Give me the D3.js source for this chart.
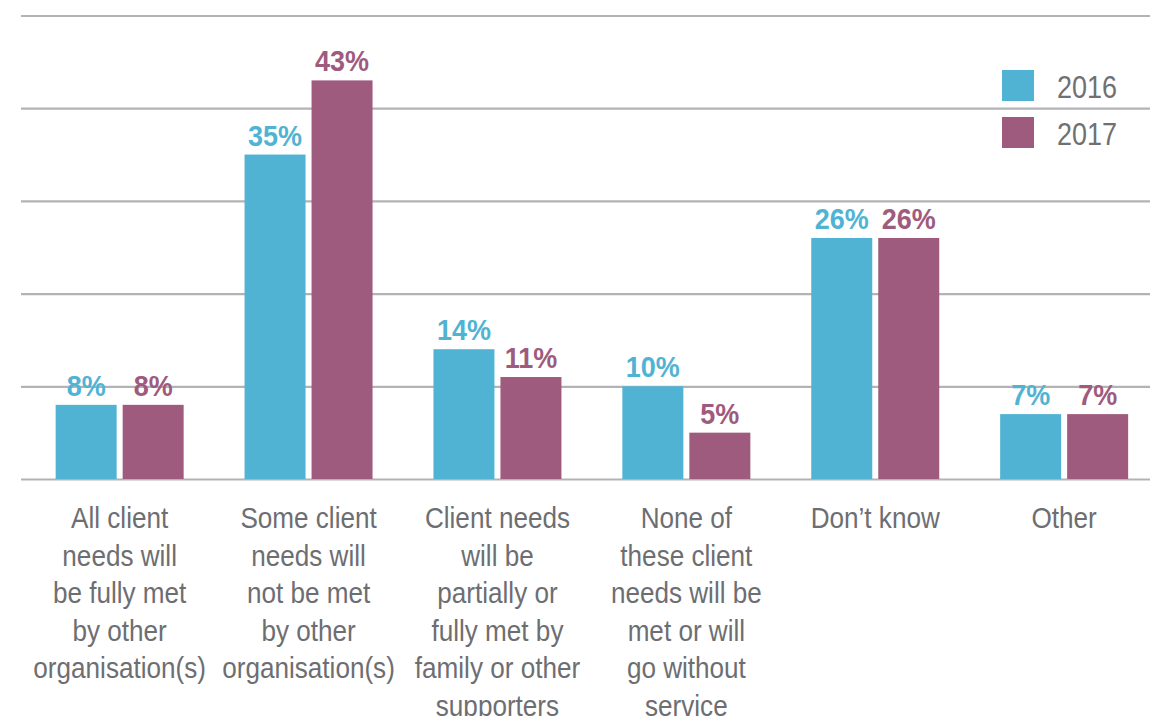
<!DOCTYPE html>
<html><head><meta charset="utf-8">
<script src="https://cdn.jsdelivr.net/npm/d3@7"></script>
<style>
body{margin:0;background:#fff;}
svg{display:block;}
</style></head>
<body>
<svg id="chart" width="1150" height="716"></svg>
<script>
const categories = [
  ["All client","needs will","be fully met","by other","organisation(s)"],
  ["Some client","needs will","not be met","by other","organisation(s)"],
  ["Client needs","will be","partially or","fully met by","family or other","supporters"],
  ["None of","these client","needs will be","met or will","go without","service"],
  ["Don\u2019t know"],
  ["Other"]
];
const seriesNames = ["2016","2017"];
const values2016 = [8,35,14,10,26,7];
const values2017 = [8,43,11,5,26,7];
const gridTicks = [0,10,20,30,40,50];
const colors = ["#51b3d4","#9e5b7d"];

const svg = d3.select("#chart");
const catKeys = categories.map((c,i)=>i);
const x0 = d3.scaleBand().domain(catKeys).range([25.2,1158.6]).padding(0);
const x1 = d3.scaleBand().domain(seriesNames).range([-64,64]).paddingInner(0.0896).paddingOuter(0);
const y = d3.scaleLinear().domain([0,50]).range([479,15.5]);

const font = "'Liberation Sans',Arial,Helvetica,sans-serif";

// grid
const grid = svg.append("g").attr("transform","translate(21,0)")
  .call(d3.axisLeft(y).tickValues(gridTicks).tickSize(-1140).tickFormat(""));
grid.select(".domain").remove();
grid.selectAll(".tick line").attr("stroke","#b3b3b7").attr("stroke-width",2.2);

const data = catKeys.map(i=>({i, vals:[values2016[i],values2017[i]]}));
const groups = svg.selectAll("g.grp").data(data).enter().append("g")
  .attr("class","grp")
  .attr("transform",d=>`translate(${x0(d.i)+x0.bandwidth()/2},0)`);

groups.selectAll("rect").data(d=>d.vals.map((v,k)=>({v,k}))).enter().append("rect")
  .attr("x",d=>x1(seriesNames[d.k]))
  .attr("width",x1.bandwidth())
  .attr("y",d=>y(d.v))
  .attr("height",d=>y(0)-y(d.v))
  .attr("fill",d=>colors[d.k]);

groups.selectAll("g.val").data(d=>d.vals.map((v,k)=>({v,k}))).enter().append("g")
  .attr("class","val")
  .attr("transform",d=>`translate(${x1(seriesNames[d.k])+x1.bandwidth()/2},${y(d.v)-9}) scale(0.9,1)`)
  .append("text")
  .attr("text-anchor","middle")
  .attr("font-family",font)
  .attr("font-weight","bold")
  .attr("font-size",30)
  .attr("fill",d=>colors[d.k])
  .text(d=>d.v+"%");

// category labels
groups.append("g").attr("transform","scale(0.87,1)")
  .append("text")
  .attr("text-anchor","middle")
  .attr("font-family",font)
  .attr("font-size",30)
  .attr("fill","#6d6e72")
  .selectAll("tspan").data(d=>categories[d.i]).enter().append("tspan")
  .attr("x",0)
  .attr("y",(d,j)=>528+j*37.6)
  .text(d=>d);

// legend
const leg = svg.append("g");
seriesNames.forEach((s,k)=>{
  leg.append("rect").attr("x",1002).attr("y",70+k*47).attr("width",32).attr("height",31).attr("fill",colors[k]);
  leg.append("g").attr("transform",`translate(1057,${98+k*47}) scale(0.87,1)`)
    .append("text")
    .attr("font-family",font).attr("font-size",31).attr("fill","#707072").text(s);
});
</script>
</body></html>
